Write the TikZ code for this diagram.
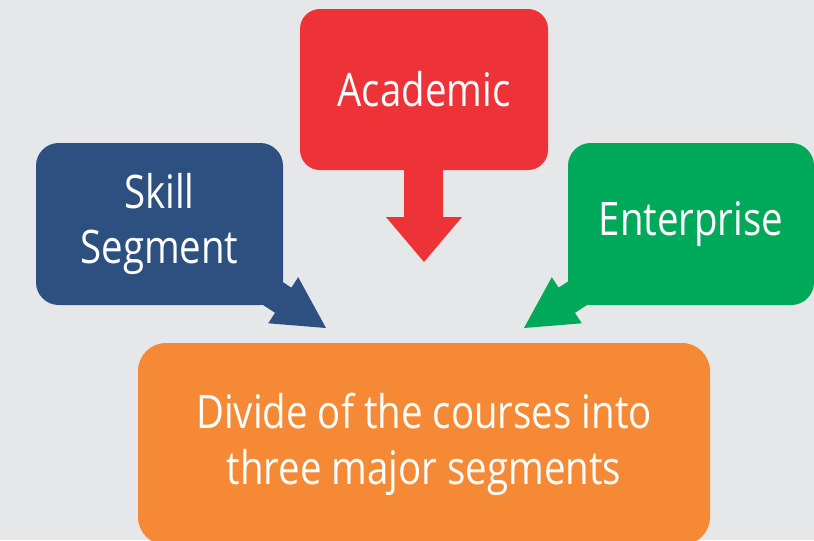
\documentclass[tikz,border=0pt]{standalone}
\usepackage{fontspec}
\setmainfont[FakeStretch=0.83]{Open Sans}
\definecolor{bgc}{HTML}{E6E7E9}
\definecolor{blueb}{HTML}{2E5080}
\definecolor{redb}{HTML}{EE3338}
\definecolor{greenb}{HTML}{00A859}
\definecolor{orangeb}{HTML}{F68935}
\begin{document}
\begin{tikzpicture}[x=0.75pt,y=-0.75pt,
  box/.style={rectangle, inner sep=0pt, text=white, align=center,
    font=\fontsize{34.7}{41.8}\selectfont}]
\fill[bgc] (0,0) rectangle (814,540);
\useasboundingbox (0,0) rectangle (814,540);
\clip (0,0) rectangle (814,540);
% block arrows
\begin{scope}[shift={(326,328)}, rotate=-33]
  \fill[blueb] (0,0) -- (-51,27.5) -- (-51,15) -- (-100,15) -- (-100,-15) -- (-51,-15) -- (-51,-27.5) -- cycle;
\end{scope}
\begin{scope}[shift={(524,328)}, rotate=-147]
  \fill[greenb] (0,0) -- (-51,27.5) -- (-51,15) -- (-100,15) -- (-100,-15) -- (-51,-15) -- (-51,-27.5) -- cycle;
\end{scope}
\fill[redb] (404,160) -- (443,160) -- (443,217) -- (462,217) -- (424,262) -- (386,217) -- (404,217) -- cycle;
% boxes
\node[box, fill=redb, rounded corners=15pt, minimum width=186pt, minimum height=120.75pt] (acad) at (424,89.5) {Academic};
\node[box, fill=blueb, rounded corners=17pt, minimum width=185.25pt, minimum height=121.5pt] (skill) at (159.5,224) {Skill\\Segment};
\node[box, fill=greenb, rounded corners=17pt, minimum width=184.5pt, minimum height=121.5pt] (ent) at (691,224) {Enterprise};
\node[box, fill=orangeb, rounded corners=21pt, minimum width=429pt, minimum height=151.5pt] (main) at (424,444) {Divide of the courses into\\three major segments};
\end{tikzpicture}
\end{document}
